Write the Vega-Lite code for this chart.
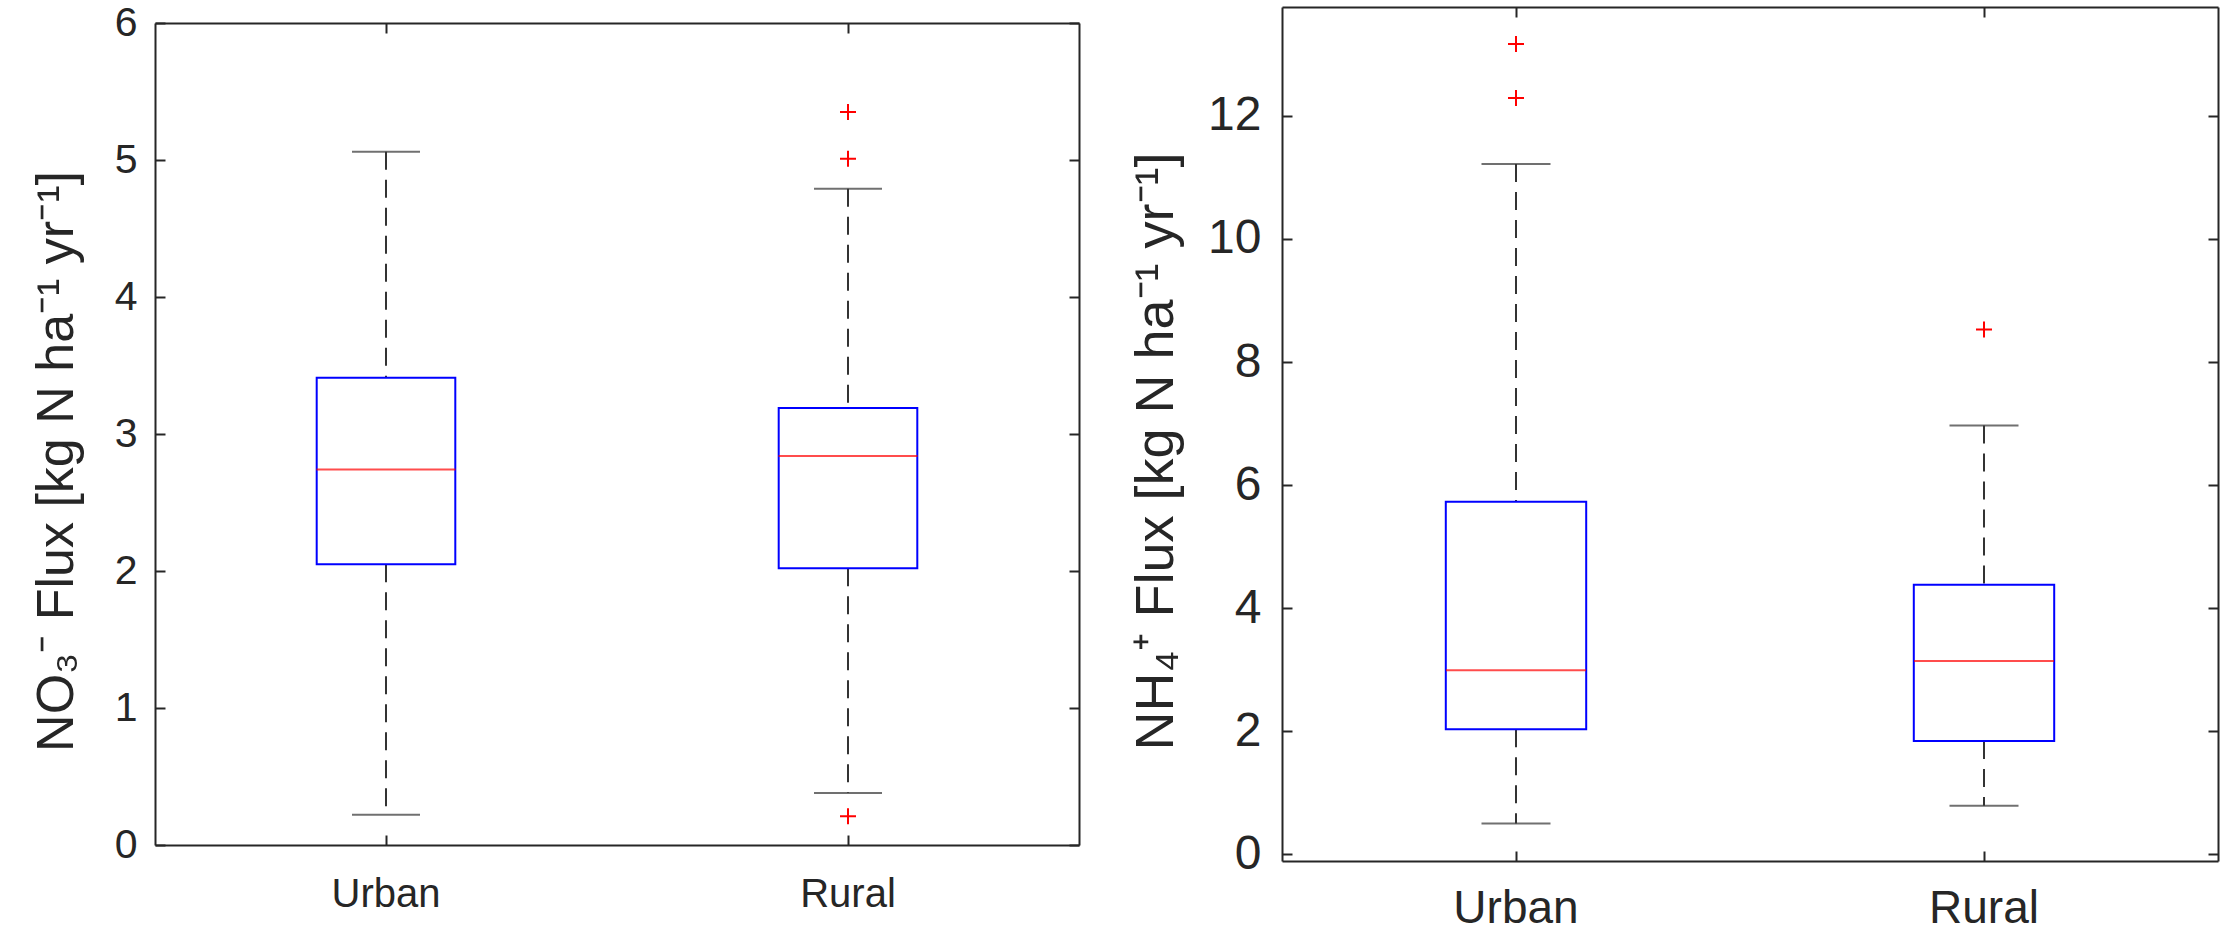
{
  "$schema": "https://vega.github.io/schema/vega-lite/v6.json",
  "background": "white",
  "padding": {"left": 29, "top": 2, "right": 5, "bottom": 0},
  "config": {
    "view": {"stroke": null},
    "font": "Liberation Sans",
    "axis": {
      "grid": false,
      "domainColor": "#262626",
      "domainWidth": 2,
      "tickColor": "#262626",
      "tickWidth": 2,
      "tickSize": -10,
      "labelColor": "#262626",
      "titleColor": "#262626",
      "labelFont": "Liberation Sans",
      "titleFont": "Liberation Sans",
      "titleFontWeight": "normal"
    }
  },
  "datasets": {
    "boxes": [
      {"panel": "NO3", "site": "Urban", "lower": 0.22, "q1": 2.05, "median": 2.74, "q3": 3.41, "upper": 5.06},
      {"panel": "NO3", "site": "Rural", "lower": 0.38, "q1": 2.02, "median": 2.84, "q3": 3.19, "upper": 4.79},
      {"panel": "NH4", "site": "Urban", "lower": 0.50, "q1": 2.03, "median": 2.99, "q3": 5.73, "upper": 11.22},
      {"panel": "NH4", "site": "Rural", "lower": 0.79, "q1": 1.84, "median": 3.14, "q3": 4.38, "upper": 6.97}
    ],
    "outliers": [
      {"panel": "NO3", "site": "Rural", "value": 5.35},
      {"panel": "NO3", "site": "Rural", "value": 5.01},
      {"panel": "NO3", "site": "Rural", "value": 0.21},
      {"panel": "NH4", "site": "Urban", "value": 13.17},
      {"panel": "NH4", "site": "Urban", "value": 12.29},
      {"panel": "NH4", "site": "Rural", "value": 8.53}
    ]
  },
  "spacing": 203,
  "bounds": "flush",
  "center": true,
  "hconcat": [
    {
      "width": 924,
      "height": 822,
      "data": {"name": "boxes"},
      "transform": [{"filter": "datum.panel === 'NO3'"}],
      "encoding": {
        "x": {"field": "site", "type": "nominal", "scale": {"type": "band", "domain": ["Urban", "Rural"], "paddingInner": 0, "paddingOuter": 0}, "axis": null}
      },
      "layer": [
        {
          "mark": {"type": "rule", "strokeDash": [18, 10], "color": "#333333", "strokeWidth": 2},
          "encoding": {
            "x": {"field": "site", "type": "nominal", "scale": {"type": "band", "domain": ["Urban", "Rural"], "paddingInner": 0, "paddingOuter": 0},
              "axis": {"orient": "bottom", "title": null, "labelAngle": 0, "labelFontSize": 40, "labelPadding": 39}},
            "y": {"field": "upper", "type": "quantitative", "scale": {"domain": [0, 6], "nice": false, "zero": false},
              "axis": {"orient": "left", "values": [0, 1, 2, 3, 4, 5, 6], "format": "d", "labelFontSize": 41, "labelPadding": 28,
                "title": "NO₃⁻ Flux [kg N ha⁻¹ yr⁻¹]", "titleFontSize": 52, "titleX": -99, "titleY": 438, "titleAngle": 270, "titleAlign": "center", "titleBaseline": "middle"}},
            "y2": {"field": "q3"}
          }
        },
        {
          "mark": {"type": "rule", "strokeDash": [18, 10], "color": "#333333", "strokeWidth": 2},
          "encoding": {
            "x": {"field": "site", "type": "nominal", "scale": {"type": "band", "domain": ["Urban", "Rural"], "paddingInner": 0, "paddingOuter": 0},
              "axis": {"orient": "top", "title": null, "labels": false}},
            "y": {"field": "q1", "type": "quantitative", "scale": {"domain": [0, 6], "nice": false, "zero": false},
              "axis": {"orient": "right", "values": [0, 1, 2, 3, 4, 5, 6], "labels": false, "title": null}},
            "y2": {"field": "lower"}
          }
        },
        {
          "mark": {"type": "tick", "size": 68, "thickness": 2, "color": "#333333"},
          "encoding": {"y": {"field": "upper", "type": "quantitative", "scale": {"domain": [0, 6], "nice": false, "zero": false}, "axis": null}}
        },
        {
          "mark": {"type": "tick", "size": 68, "thickness": 2, "color": "#333333"},
          "encoding": {"y": {"field": "lower", "type": "quantitative", "scale": {"domain": [0, 6], "nice": false, "zero": false}, "axis": null}}
        },
        {
          "mark": {"type": "bar", "filled": false, "color": "#0000ff", "strokeWidth": 2, "width": {"band": 0.3}},
          "encoding": {
            "y": {"field": "q1", "type": "quantitative", "scale": {"domain": [0, 6], "nice": false, "zero": false}, "axis": null},
            "y2": {"field": "q3"}
          }
        },
        {
          "mark": {"type": "tick", "size": 139, "thickness": 2, "color": "#ff0000"},
          "encoding": {"y": {"field": "median", "type": "quantitative", "scale": {"domain": [0, 6], "nice": false, "zero": false}, "axis": null}}
        },
        {
          "data": {"name": "outliers"},
          "transform": [{"filter": "datum.panel === 'NO3'"}],
          "mark": {"type": "point", "shape": "M-1,0H1M0,-1V1", "size": 256, "filled": false, "color": "#ff0000", "strokeWidth": 2, "opacity": 1},
          "encoding": {"y": {"field": "value", "type": "quantitative", "scale": {"domain": [0, 6], "nice": false, "zero": false}, "axis": null}}
        }
      ],
      "resolve": {"axis": {"x": "independent", "y": "independent"}}
    },
    {
      "width": 936,
      "height": 854,
      "data": {"name": "boxes"},
      "transform": [{"filter": "datum.panel === 'NH4'"}],
      "encoding": {
        "x": {"field": "site", "type": "nominal", "scale": {"type": "band", "domain": ["Urban", "Rural"], "paddingInner": 0, "paddingOuter": 0}, "axis": null}
      },
      "layer": [
        {
          "mark": {"type": "rule", "strokeDash": [18, 10], "color": "#333333", "strokeWidth": 2},
          "encoding": {
            "x": {"field": "site", "type": "nominal", "scale": {"type": "band", "domain": ["Urban", "Rural"], "paddingInner": 0, "paddingOuter": 0},
              "axis": {"orient": "bottom", "title": null, "labelAngle": 0, "labelFontSize": 46, "labelPadding": 35}},
            "y": {"field": "upper", "type": "quantitative", "scale": {"domain": [-0.11, 13.77], "nice": false, "zero": false},
              "axis": {"orient": "left", "values": [0, 2, 4, 6, 8, 10, 12], "format": "d", "labelFontSize": 48, "labelPadding": 31,
                "title": "NH₄⁺ Flux [kg N ha⁻¹ yr⁻¹]", "titleFontSize": 54, "titleX": -126, "titleY": 444, "titleAngle": 270, "titleAlign": "center", "titleBaseline": "middle"}},
            "y2": {"field": "q3"}
          }
        },
        {
          "mark": {"type": "rule", "strokeDash": [18, 10], "color": "#333333", "strokeWidth": 2},
          "encoding": {
            "x": {"field": "site", "type": "nominal", "scale": {"type": "band", "domain": ["Urban", "Rural"], "paddingInner": 0, "paddingOuter": 0},
              "axis": {"orient": "top", "title": null, "labels": false}},
            "y": {"field": "q1", "type": "quantitative", "scale": {"domain": [-0.11, 13.77], "nice": false, "zero": false},
              "axis": {"orient": "right", "values": [0, 2, 4, 6, 8, 10, 12], "labels": false, "title": null}},
            "y2": {"field": "lower"}
          }
        },
        {
          "mark": {"type": "tick", "size": 69, "thickness": 2, "color": "#333333"},
          "encoding": {"y": {"field": "upper", "type": "quantitative", "scale": {"domain": [-0.11, 13.77], "nice": false, "zero": false}, "axis": null}}
        },
        {
          "mark": {"type": "tick", "size": 69, "thickness": 2, "color": "#333333"},
          "encoding": {"y": {"field": "lower", "type": "quantitative", "scale": {"domain": [-0.11, 13.77], "nice": false, "zero": false}, "axis": null}}
        },
        {
          "mark": {"type": "bar", "filled": false, "color": "#0000ff", "strokeWidth": 2, "width": {"band": 0.3}},
          "encoding": {
            "y": {"field": "q1", "type": "quantitative", "scale": {"domain": [-0.11, 13.77], "nice": false, "zero": false}, "axis": null},
            "y2": {"field": "q3"}
          }
        },
        {
          "mark": {"type": "tick", "size": 140, "thickness": 2, "color": "#ff0000"},
          "encoding": {"y": {"field": "median", "type": "quantitative", "scale": {"domain": [-0.11, 13.77], "nice": false, "zero": false}, "axis": null}}
        },
        {
          "data": {"name": "outliers"},
          "transform": [{"filter": "datum.panel === 'NH4'"}],
          "mark": {"type": "point", "shape": "M-1,0H1M0,-1V1", "size": 256, "filled": false, "color": "#ff0000", "strokeWidth": 2, "opacity": 1},
          "encoding": {"y": {"field": "value", "type": "quantitative", "scale": {"domain": [-0.11, 13.77], "nice": false, "zero": false}, "axis": null}}
        }
      ],
      "resolve": {"axis": {"x": "independent", "y": "independent"}}
    }
  ]
}
